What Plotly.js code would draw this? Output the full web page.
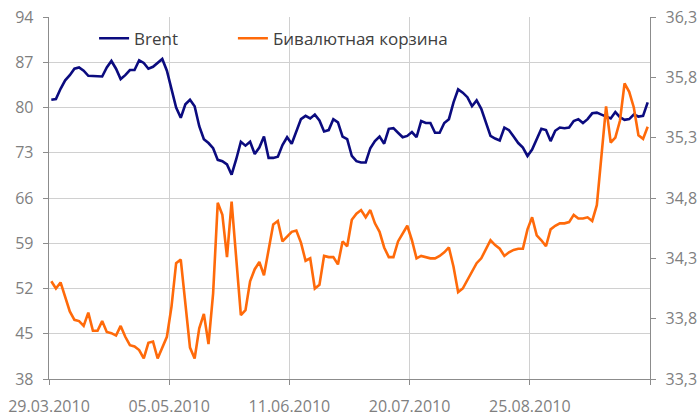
<!DOCTYPE html>
<html>
<head>
<meta charset="utf-8">
<script src="https://cdn.plot.ly/plotly-3.0.1.min.js"></script>
<style>html,body{margin:0;padding:0;background:#fff;}#chart{width:699px;height:415px;}</style>
</head>
<body>
<div id="chart"></div>
<script>
// Tick labels on the category (trading-day) axis
const tickLabels = ["29.03.2010", "05.05.2010", "11.06.2010", "20.07.2010", "25.08.2010", ""];
const pointsPerTick = 26;

// Brent, USD/bbl (left axis)
const brent = [
  81.2, 81.3, 82.9, 84.2, 85.0, 86.0, 86.2, 85.7, 84.9, 84.9,
  84.8, 84.8, 86.2, 87.2, 86.0, 84.4, 85.0, 85.8, 85.8, 87.3,
  86.9, 86.0, 86.3, 86.9, 87.5, 85.7, 82.9, 80.0, 78.4, 80.5,
  81.2, 80.2, 77.1, 75.1, 74.5, 73.7, 71.9, 71.7, 71.2, 69.6,
  72.0, 74.7, 74.1, 74.7, 72.8, 73.8, 75.5, 72.2, 72.2, 72.4,
  74.2, 75.4, 74.4, 76.4, 78.2, 78.7, 78.3, 78.9, 78.0, 76.3,
  76.5, 78.2, 77.7, 75.5, 75.1, 72.5, 71.7, 71.5, 71.5, 73.7,
  74.8, 75.5, 74.4, 76.7, 76.8, 76.1, 75.4, 75.6, 76.2, 75.4,
  77.9, 77.6, 77.6, 76.1, 76.1, 77.6, 78.2, 80.8, 82.8, 82.3,
  81.6, 80.2, 81.1, 79.8, 77.7, 75.6, 75.2, 74.9, 76.9, 76.5,
  75.5, 74.5, 73.8, 72.5, 73.5, 75.1, 76.7, 76.5, 74.8, 76.4,
  76.9, 76.8, 76.9, 77.9, 78.2, 77.6, 78.2, 79.1, 79.2, 78.9,
  78.6, 78.3, 79.3, 78.5, 78.1, 78.2, 78.9, 78.6, 78.7, 80.8
];

// Dual-currency basket, RUB (right axis)
const basket = [
  34.11, 34.05, 34.10, 33.97, 33.86, 33.79, 33.78, 33.74, 33.85, 33.70,
  33.70, 33.78, 33.69, 33.68, 33.66, 33.74, 33.65, 33.58, 33.57, 33.54,
  33.47, 33.60, 33.61, 33.47, 33.56, 33.65, 33.90, 34.26, 34.29, 33.93,
  33.56, 33.47, 33.72, 33.84, 33.59, 34.01, 34.76, 34.66, 34.31, 34.77,
  34.28, 33.83, 33.87, 34.11, 34.21, 34.27, 34.16, 34.37, 34.58, 34.61,
  34.44, 34.48, 34.52, 34.53, 34.43, 34.28, 34.30, 34.05, 34.08, 34.32,
  34.31, 34.31, 34.25, 34.44, 34.40, 34.62, 34.67, 34.70, 34.64, 34.70,
  34.59, 34.52, 34.39, 34.31, 34.31, 34.44, 34.51, 34.57, 34.45, 34.30,
  34.32, 34.31, 34.30, 34.30, 34.32, 34.35, 34.39, 34.23, 34.02, 34.05,
  34.12, 34.18, 34.26, 34.30, 34.38, 34.45, 34.41, 34.38, 34.32, 34.35,
  34.37, 34.38, 34.38, 34.54, 34.64, 34.49, 34.45, 34.40, 34.54, 34.57,
  34.59, 34.59, 34.60, 34.66, 34.63, 34.63, 34.64, 34.61, 34.74, 35.15,
  35.56, 35.26, 35.30, 35.44, 35.75, 35.68, 35.55, 35.32, 35.29, 35.39
];

const seriesNames = ["Brent", "Бивалютная корзина"];

const xs = brent.map((_, i) => i + 0.5);
const nPts = brent.length;
const tickVals = tickLabels.map((_, k) => k * pointsPerTick);

const font = "'Open Sans', 'DejaVu Sans', sans-serif";
const gray = "#7f7f7f";
const axisLine = "#8c8c8c";
const legendFont = {family: font, size: 17, color: "#404040"};

const traces = [
  {x: xs, y: brent, name: seriesNames[0], type: "scatter", mode: "lines",
   line: {color: "#0b0b7f", width: 2.6}, yaxis: "y", legend: "legend"},
  {x: xs, y: basket, name: seriesNames[1], type: "scatter", mode: "lines",
   line: {color: "#ff6a0a", width: 2.6}, yaxis: "y2", legend: "legend2"}
];

const layout = {
  width: 699, height: 415,
  margin: {l: 49, r: 49, t: 17, b: 36, pad: 0},
  paper_bgcolor: "#fff", plot_bgcolor: "#fff",
  separators: ", ",
  font: {family: font, size: 16, color: gray},
  showlegend: true,
  legend: {orientation: "h", x: 0.075, xanchor: "left", y: 0.94, yanchor: "middle",
           font: legendFont, bgcolor: "rgba(0,0,0,0)"},
  legend2: {orientation: "h", x: 0.306, xanchor: "left", y: 0.94, yanchor: "middle",
           font: legendFont, bgcolor: "rgba(0,0,0,0)"},
  xaxis: {
    range: [0, nPts], tickmode: "array", tickvals: tickVals, ticktext: tickLabels,
    showgrid: true, gridcolor: "#d0d0d0", gridwidth: 1,
    showline: true, linecolor: axisLine, linewidth: 1.3,
    ticks: "outside", ticklen: 5, tickcolor: axisLine, ticklabelstandoff: 7,
    zeroline: false, fixedrange: true, tickfont: {size: 16, color: gray}
  },
  yaxis: {
    range: [38, 94], tickmode: "linear", tick0: 38, dtick: 7,
    showgrid: true, gridcolor: "#d0d0d0", gridwidth: 1,
    showline: true, linecolor: axisLine, linewidth: 1.3,
    ticks: "outside", ticklen: 5, tickcolor: axisLine, ticklabelstandoff: 6,
    zeroline: false, tickfont: {size: 16, color: gray}
  },
  yaxis2: {
    range: [33.3, 36.3], tickmode: "linear", tick0: 33.3, dtick: 0.5, tickformat: ".1f",
    overlaying: "y", side: "right", showgrid: false,
    showline: true, linecolor: axisLine, linewidth: 1.3,
    ticks: "outside", ticklen: 5, tickcolor: axisLine, ticklabelstandoff: 6,
    zeroline: false, tickfont: {size: 16, color: gray}
  }
};

Plotly.newPlot("chart", traces, layout, {staticPlot: true, displayModeBar: false});
</script>
</body>
</html>
